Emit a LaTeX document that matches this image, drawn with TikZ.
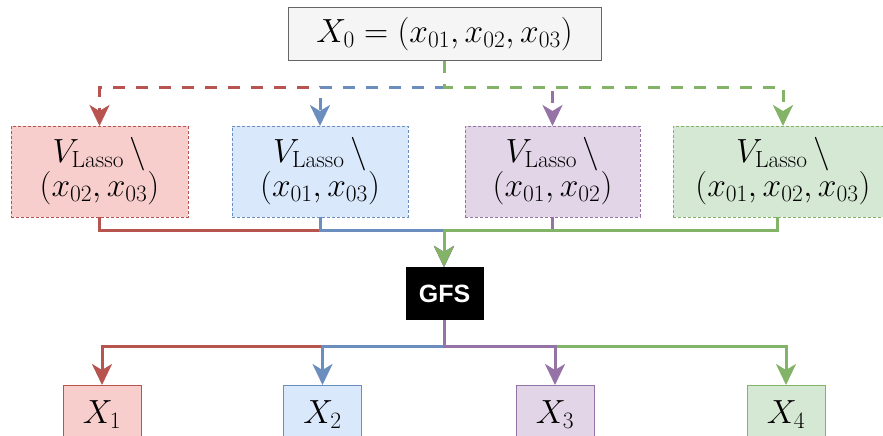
\RequirePackage{fix-cm}
\documentclass[tikz,border=0pt]{standalone}
\usepackage{fontspec}
\newfontfamily\gfsfont{Liberation Sans}
\usetikzlibrary{arrows.meta}
\definecolor{rF}{HTML}{F8CECC}\definecolor{rS}{HTML}{B85450}
\definecolor{bF}{HTML}{DAE8FC}\definecolor{bS}{HTML}{6C8EBF}
\definecolor{pF}{HTML}{E1D5E7}\definecolor{pS}{HTML}{9673A6}
\definecolor{gF}{HTML}{D5E8D4}\definecolor{gS}{HTML}{82B366}
\definecolor{kF}{HTML}{F5F5F5}\definecolor{kS}{HTML}{666666}
\begin{document}
\begin{tikzpicture}[x=1pt,y=-1pt,
  every node/.style={inner sep=0pt,outer sep=0pt,font=\fontsize{33.5}{34}\selectfont,align=center},
  topbox/.style={draw=kS,fill=kF,line width=1pt,minimum width=313pt,minimum height=53pt},
  lassobox/.style={line width=1pt,dash pattern=on 3pt off 2pt,minimum height=91pt},
  outbox/.style={line width=1pt,minimum width=78pt,minimum height=60pt},
  conn/.style={line width=3pt,-{Stealth[length=21pt,width=20pt,inset=6pt]}},
  dconn/.style={conn,dash pattern=on 12pt off 11pt}]
\useasboundingbox (0,0) rectangle (883,436);
% nodes
\node[topbox] (x0) at (444.5,34.5) {$X_0=(x_{01},x_{02},x_{03})$};
\node[lassobox,draw=rS,fill=rF,minimum width=177pt] (v1) at (99.5,171.5) {$V_{\mathrm{Lasso}}\,\backslash$\\$(x_{02},x_{03})$};
\node[lassobox,draw=bS,fill=bF,minimum width=176pt] (v2) at (320,171.5) {$V_{\mathrm{Lasso}}\,\backslash$\\$(x_{01},x_{03})$};
\node[lassobox,draw=pS,fill=pF,minimum width=175pt] (v3) at (552.5,171.5) {$V_{\mathrm{Lasso}}\,\backslash$\\$(x_{01},x_{02})$};
\node[lassobox,draw=gS,fill=gF,minimum width=220pt] (v4) at (783,171.5) {$V_{\mathrm{Lasso}}\,\backslash$\\$(x_{01},x_{02},x_{03})$};
\node[fill=black,minimum width=78pt,minimum height=53pt,text=white,font=\gfsfont\bfseries\fontsize{25}{30}\selectfont] (gfs) at (444.5,293.5) {GFS};
\node[outbox,draw=rS,fill=rF] (b1) at (102,415) {$X_1$};
\node[outbox,draw=bS,fill=bF] (b2) at (322.5,415) {$X_2$};
\node[outbox,draw=pS,fill=pF] (b3) at (555,415) {$X_3$};
\node[outbox,draw=gS,fill=gF] (b4) at (786,415) {$X_4$};
\coordinate (topbus) at (444,87);
\coordinate (midbus) at (444,230);
\coordinate (botbus) at (444,346);
\coordinate (v4out) at (777,217);
% top dashed connectors
\draw[dconn,rS] (x0.south -| topbus) -- (topbus) -| (v1.north);
\draw[dconn,bS] (x0.south -| topbus) -- (topbus) -| (v2.north);
\draw[dconn,pS] (x0.south -| topbus) -- (topbus) -| (v3.north);
\draw[dconn,gS] (x0.south -| topbus) -- (topbus) -| (v4.north);
% middle connectors to GFS
\draw[conn,rS] (v1.south) |- (midbus) -- (gfs.north -| midbus);
\draw[conn,bS] (v2.south) |- (midbus) -- (gfs.north -| midbus);
\draw[conn,pS] (v3.south) |- (midbus) -- (gfs.north -| midbus);
\draw[conn,gS] (v4out) |- (midbus) -- (gfs.north -| midbus);
% bottom connectors
\draw[conn,rS] (gfs.south -| botbus) -- (botbus) -| (b1.north);
\draw[conn,bS] (gfs.south -| botbus) -- (botbus) -| (b2.north);
\draw[conn,gS] (gfs.south -| botbus) -- (botbus) -| (b4.north);
\draw[conn,pS] (gfs.south -| botbus) -- (botbus) -| (b3.north);
\end{tikzpicture}
\end{document}
